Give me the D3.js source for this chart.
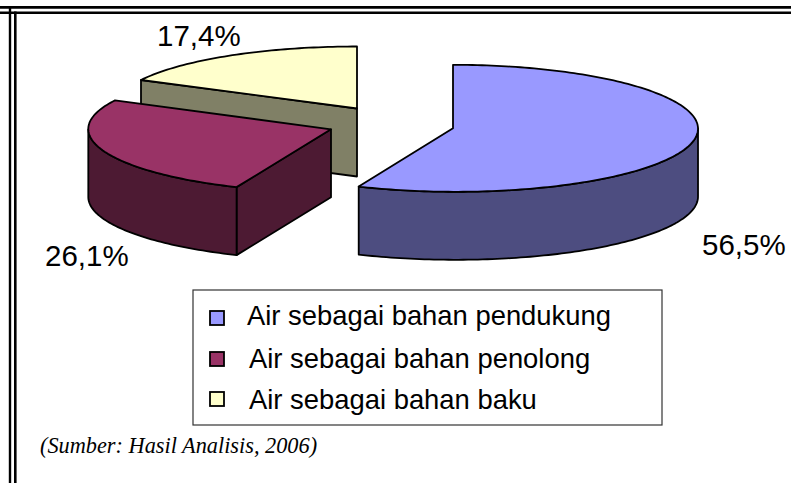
<!DOCTYPE html>
<html>
<head>
<meta charset="utf-8">
<script src="https://cdn.jsdelivr.net/npm/d3@7/dist/d3.min.js"></script>
<style>
html,body{margin:0;padding:0;background:#fff;overflow:hidden}
svg{display:block}
text{font-family:"Liberation Sans",Arial,sans-serif;fill:#000}
</style>
</head>
<body>
<svg id="c" width="791" height="483"></svg>
<script>
const categories = ["Air sebagai bahan pendukung", "Air sebagai bahan penolong", "Air sebagai bahan baku"];
const values = [56.5, 26.1, 17.4];
const valueLabels = ["56,5%", "26,1%", "17,4%"];
const topColors = ["#9999FF", "#993366", "#FFFFCC"];
const sideColors = ["#4D4D80", "#4D1A33", "#808066"];
const sourceNote = "(Sumber: Hasil Analisis, 2006)";

const radiiX = [243.7, 244, 244], radiiY = [63.5, 63, 62], depth = 68, shear = 1.3;
const centers = [[453, 128.3], [331, 129.3], [357, 108.5]];
const labelPos = [[702, 254.5], [45, 266], [157, 46]];
const legendRows = [[247, 325, 311], [249, 368, 352], [249, 409, 392]];

const svg = d3.select("#c");

// frame: top and left double rule only
[[0, 7.3, 791, 7.3, 2.8], [0, 12.7, 791, 12.7, 2.6], [10, 6, 10, 483, 2.4], [15.3, 11.4, 15.3, 483, 2.6]]
  .forEach(([x1, y1, x2, y2, w]) => svg.append("line")
    .attr("x1", x1).attr("y1", y1).attr("x2", x2).attr("y2", y2)
    .attr("stroke", "#000").attr("stroke-width", w));

const arcs = d3.pie().sort(null).value(d => d)(values);
const px = (i, a) => centers[i][0] + radiiX[i] * Math.sin(a) + shear * (1 - Math.cos(a));
const py = (i, a) => centers[i][1] - radiiY[i] * Math.cos(a);
const line = d3.line();

function sample(a0, a1) {
  const n = Math.max(2, Math.ceil(Math.abs(a1 - a0) / 0.02));
  return d3.range(n + 1).map(k => a0 + (a1 - a0) * k / n);
}
function drawPoly(pts, fill) {
  svg.append("path").attr("d", line(pts) + "Z")
    .attr("fill", fill).attr("stroke", "#000")
    .attr("stroke-width", 1.8).attr("stroke-linejoin", "round");
}
function wall(i, a0, a1) {
  const upper = sample(a0, a1).map(a => [px(i, a), py(i, a)]);
  const lower = upper.slice().reverse().map(p => [p[0], p[1] + depth]);
  drawPoly(upper.concat(lower), sideColors[i]);
}
function cutFace(i, a) {
  const c = centers[i];
  drawPoly([[c[0], c[1]], [px(i, a), py(i, a)], [px(i, a), py(i, a) + depth], [c[0], c[1] + depth]], sideColors[i]);
}
function topFace(i) {
  const d = arcs[i], c = centers[i];
  drawPoly([[c[0], c[1]]].concat(sample(d.startAngle, d.endAngle).map(a => [px(i, a), py(i, a)])), topColors[i]);
}

// back to front: yellow, maroon, blue
cutFace(2, arcs[2].startAngle);
topFace(2);

cutFace(1, arcs[1].startAngle);
wall(1, arcs[1].startAngle, 1.5 * Math.PI);
topFace(1);

wall(0, Math.PI / 2, arcs[0].endAngle);
topFace(0);

// value labels
valueLabels.forEach((t, i) => svg.append("text")
  .attr("x", labelPos[i][0]).attr("y", labelPos[i][1])
  .attr("font-size", 29.5).text(t));

// legend
svg.append("rect").attr("x", 193).attr("y", 290).attr("width", 469).attr("height", 135)
  .attr("fill", "#fff").attr("stroke", "#333").attr("stroke-width", 1.2);
categories.forEach((t, i) => {
  const r = legendRows[i];
  svg.append("rect").attr("x", 210).attr("y", r[2]).attr("width", 14).attr("height", 14)
    .attr("fill", topColors[i]).attr("stroke", "#000").attr("stroke-width", 1.8);
  svg.append("text").attr("x", r[0]).attr("y", r[1]).attr("font-size", 27.4).text(t);
});

// source note
svg.append("text").attr("x", 40).attr("y", 453)
  .style("font-family", '"Liberation Serif","Times New Roman",serif')
  .attr("font-style", "italic").attr("font-size", 22.3).text(sourceNote);
</script>
</body>
</html>
